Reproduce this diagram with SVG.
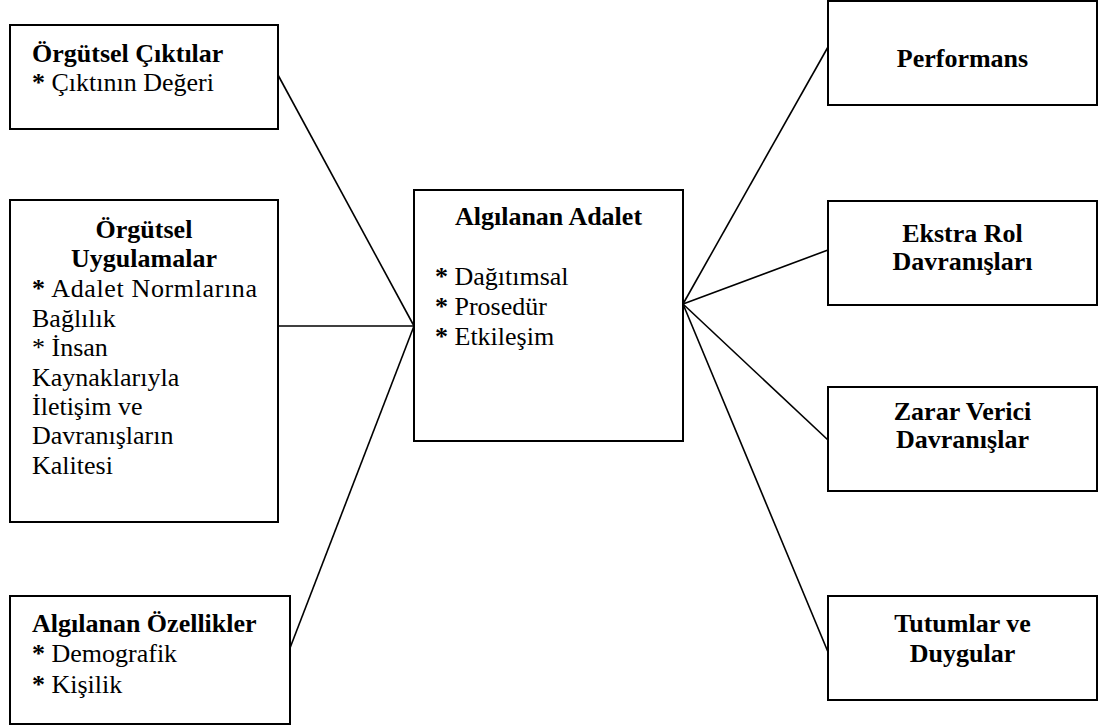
<svg xmlns="http://www.w3.org/2000/svg" width="1099" height="728" viewBox="0 0 1099 728">
<style>
.box{fill:#fff;stroke:#000;stroke-width:2}
.ln{stroke:#000;stroke-width:1.6;fill:none}
</style>
<rect width="1099" height="728" fill="#fff"/>
<g id="connectors">
<line class="ln" x1="278" y1="75" x2="414" y2="326"/>
<line class="ln" x1="278" y1="326" x2="414" y2="326"/>
<line class="ln" x1="290" y1="648" x2="414" y2="326"/>
<line class="ln" x1="683" y1="304" x2="828" y2="47"/>
<line class="ln" x1="683" y1="304" x2="828" y2="250"/>
<line class="ln" x1="683" y1="304" x2="828" y2="440"/>
<line class="ln" x1="683" y1="304" x2="828" y2="652"/>
</g>
<g id="orgutsel-ciktilar">
<rect class="box" x="10" y="25" width="268" height="104"/>
<text font-family="Times New Roman, Liberation Serif, serif" font-size="26" x="32" y="91"><tspan font-weight="bold">*</tspan> Çıktının Değeri</text>
<text font-family="Liberation Serif, serif" font-size="26" font-weight="bold" x="32" y="62">Örgütsel Çıktılar</text>
</g>
<g id="orgutsel-uygulamalar">
<rect class="box" x="10" y="200" width="268" height="322"/>
<text font-family="Times New Roman, Liberation Serif, serif" font-size="26" x="32" y="297" textLength="225" lengthAdjust="spacing"><tspan font-weight="bold">*</tspan> Adalet Normlarına</text>
<text font-family="Times New Roman, Liberation Serif, serif" font-size="26" x="32" y="327">Bağlılık</text>
<text font-family="Times New Roman, Liberation Serif, serif" font-size="26" x="32" y="356">* İnsan</text>
<text font-family="Times New Roman, Liberation Serif, serif" font-size="26" x="32" y="386">Kaynaklarıyla</text>
<text font-family="Times New Roman, Liberation Serif, serif" font-size="26" x="32" y="415">İletişim ve</text>
<text font-family="Times New Roman, Liberation Serif, serif" font-size="26" x="32" y="444">Davranışların</text>
<text font-family="Times New Roman, Liberation Serif, serif" font-size="26" x="32" y="474">Kalitesi</text>
<text font-family="Liberation Serif, serif" font-size="26" font-weight="bold" text-anchor="middle" x="144" y="238">Örgütsel</text>
<text font-family="Liberation Serif, serif" font-size="26" font-weight="bold" text-anchor="middle" x="144" y="267">Uygulamalar</text>
</g>
<g id="algilanan-ozellikler">
<rect class="box" x="10" y="596" width="280" height="128"/>
<text font-family="Times New Roman, Liberation Serif, serif" font-size="26" x="32" y="662"><tspan font-weight="bold">*</tspan> Demografik</text>
<text font-family="Times New Roman, Liberation Serif, serif" font-size="26" x="32" y="693"><tspan font-weight="bold">*</tspan> Kişilik</text>
<text font-family="Liberation Serif, serif" font-size="26" font-weight="bold" x="32" y="632">Algılanan Özellikler</text>
</g>
<g id="algilanan-adalet">
<rect class="box" x="414" y="190" width="269" height="251"/>
<text font-family="Times New Roman, Liberation Serif, serif" font-size="26" x="435" y="285"><tspan font-weight="bold">*</tspan> Dağıtımsal</text>
<text font-family="Times New Roman, Liberation Serif, serif" font-size="26" x="435" y="315"><tspan font-weight="bold">*</tspan> Prosedür</text>
<text font-family="Times New Roman, Liberation Serif, serif" font-size="26" x="435" y="345"><tspan font-weight="bold">*</tspan> Etkileşim</text>
<text font-family="Liberation Serif, serif" font-size="26" font-weight="bold" text-anchor="middle" x="548.5" y="225">Algılanan Adalet</text>
</g>
<g id="performans">
<rect class="box" x="828" y="1" width="269" height="104"/>
<text font-family="Liberation Serif, serif" font-size="26" font-weight="bold" text-anchor="middle" x="962.5" y="67">Performans</text>
</g>
<g id="ekstra-rol">
<rect class="box" x="828" y="201" width="269" height="104"/>
<text font-family="Liberation Serif, serif" font-size="26" font-weight="bold" text-anchor="middle" x="962.5" y="242">Ekstra Rol</text>
<text font-family="Liberation Serif, serif" font-size="26" font-weight="bold" text-anchor="middle" x="962.5" y="270">Davranışları</text>
</g>
<g id="zarar-verici">
<rect class="box" x="828" y="387" width="269" height="104"/>
<text font-family="Liberation Serif, serif" font-size="26" font-weight="bold" text-anchor="middle" x="962.5" y="420">Zarar Verici</text>
<text font-family="Liberation Serif, serif" font-size="26" font-weight="bold" text-anchor="middle" x="962.5" y="448">Davranışlar</text>
</g>
<g id="tutumlar">
<rect class="box" x="828" y="596" width="269" height="104"/>
<text font-family="Liberation Serif, serif" font-size="26" font-weight="bold" text-anchor="middle" x="962.5" y="632">Tutumlar ve</text>
<text font-family="Liberation Serif, serif" font-size="26" font-weight="bold" text-anchor="middle" x="962.5" y="662">Duygular</text>
</g>
</svg>
